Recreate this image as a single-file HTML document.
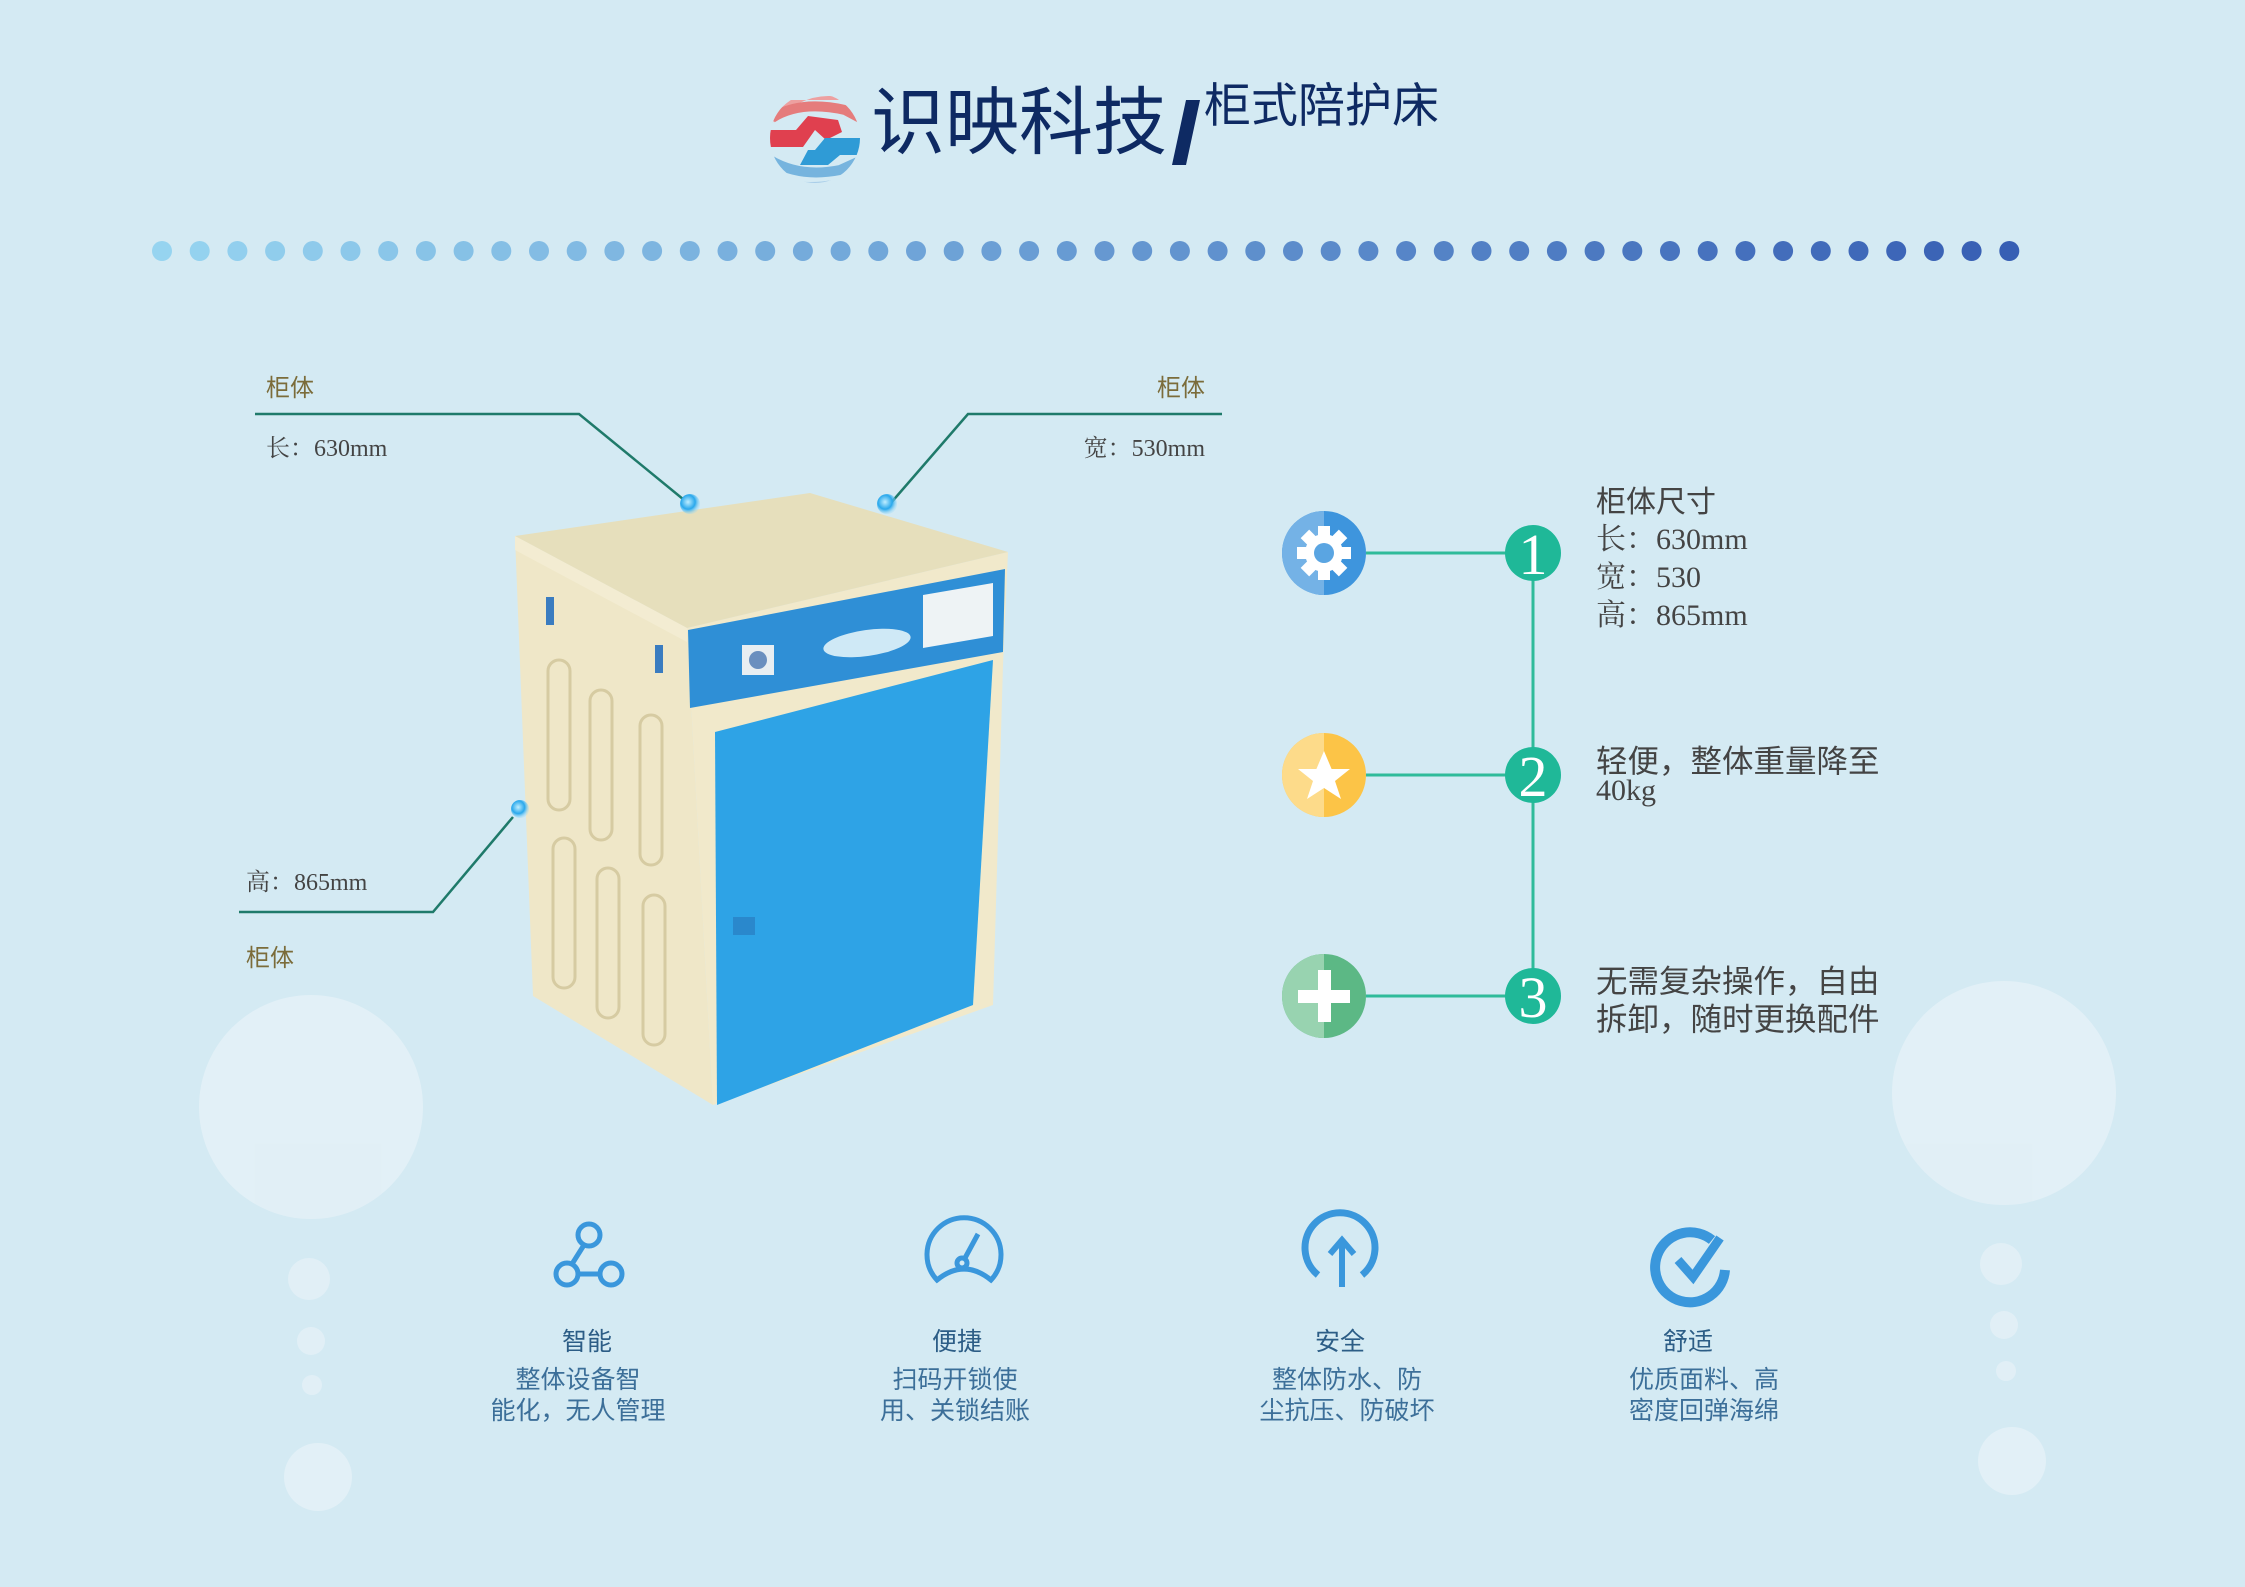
<!DOCTYPE html>
<html><head><meta charset="utf-8"><style>
html,body{margin:0;padding:0;}
body{width:2245px;height:1587px;background:#d4eaf3;overflow:hidden;position:relative;}
svg{position:absolute;left:0;top:0;}
text{font-family:"Liberation Sans","Noto Sans CJK SC",sans-serif;}
.serif{font-family:"Liberation Serif","Noto Serif CJK SC",serif;}
</style></head><body>
<svg width="2245" height="1587" viewBox="0 0 2245 1587" xmlns="http://www.w3.org/2000/svg">
<defs>
<clipPath id="lc"><circle cx="815" cy="138" r="45"/></clipPath>
<radialGradient id="bd" cx="40%" cy="40%" r="60%"><stop offset="0" stop-color="#bfeeff"/><stop offset="0.6" stop-color="#29a8ec"/><stop offset="1" stop-color="#8fd6f8" stop-opacity="0.3"/></radialGradient>
</defs>
<g fill="#e4f1f7" opacity="0.85">
<circle cx="311" cy="1107" r="112"/><circle cx="309" cy="1279" r="21"/><circle cx="311" cy="1341" r="14"/><circle cx="312" cy="1385" r="10"/><circle cx="318" cy="1477" r="34"/>
<circle cx="2004" cy="1093" r="112"/><circle cx="2001" cy="1264" r="21"/><circle cx="2004" cy="1325" r="14"/><circle cx="2006" cy="1371" r="10"/><circle cx="2012" cy="1461" r="34"/>
</g>
<g clip-path="url(#lc)">
<rect x="770" y="93" width="90" height="90" fill="#d4eaf3"/>
<path d="M770 125 Q800 95 830 96 Q850 98 860 112 L860 100 L770 100Z" fill="#eda0a0"/>
<path d="M772 118 Q800 100 845 110 L860 118" stroke="#e57c7c" stroke-width="10" fill="none"/>
<path d="M768 130 L796 130 L808 116 L838 120 L842 132 L826 140 L815 130 L803 147 L768 147Z" fill="#e0404f"/>
<path d="M815 150 L825 138 L862 138 L862 155 L840 155 L828 165 L800 165 L808 150Z" fill="#2f9bd6"/>
<path d="M770 160 Q800 178 840 170 L862 160" stroke="#76b4de" stroke-width="10" fill="none"/>
<path d="M770 172 Q805 192 862 172 L862 185 L770 185Z" fill="#a8cde8"/>
</g>
<text x="871" y="148" font-size="74" fill="#0e2a63" font-family="Liberation Serif,'Noto Serif CJK SC',serif">识映科技</text>
<polygon points="1186,100 1200,100 1186,165 1172,165" fill="#0e2a63"/>
<text x="1204" y="122" font-size="47" fill="#0e2a63" font-family="Liberation Serif,'Noto Serif CJK SC',serif">柜式陪护床</text>
<g id="dots"></g>
<g stroke="#1f7a6a" stroke-width="2.5" fill="none">
<polyline points="255,414 579,414 689,504"/>
<polyline points="1222,414 968,414 890,504"/>
<polyline points="239,912 433,912 513,817"/>
</g>
<g fill="#7b6c3a" font-size="24"><text x="266" y="396">柜体</text><text x="1205" y="396" text-anchor="end">柜体</text><text x="246" y="966">柜体</text></g>
<g fill="#444" font-size="24"><text x="266" y="456" class="serif">长：630mm</text><text x="1205" y="456" text-anchor="end" class="serif">宽：530mm</text><text x="246" y="890" class="serif">高：865mm</text></g>
<polygon points="515,536 687,628 713,1105 533,996" fill="#efe7c8"/>
<polygon points="687,628 1008,552 1003,665 993,1005 713,1105" fill="#f1e9cb"/>
<polygon points="515,536 810,493 1008,552 687,628" fill="#e6dfbc"/>
<polygon points="515,536 687,628 687,642 515,550" fill="#f3ecd2"/>
<polygon points="688,630 1005,569 1003,652 690,708" fill="#2f8fd6"/>
<ellipse cx="867" cy="643" rx="44" ry="13" fill="#cfe9f6" transform="rotate(-8 867 643)"/>
<polygon points="923,595 993,583 993,636 923,648" fill="#eef3f5"/>
<rect x="742" y="645" width="32" height="30" fill="#e8eef2"/>
<circle cx="758" cy="660" r="9" fill="#6a8fbf"/>
<polygon points="715,732 993,660 973,1005 717,1105" fill="#2ea3e6"/>
<rect x="733" y="917" width="22" height="18" fill="#2a88cc"/>
<g fill="none" stroke="#d6cba2" stroke-width="3">
<rect x="548" y="660" width="22" height="150" rx="11"/><rect x="590" y="690" width="22" height="150" rx="11"/><rect x="640" y="715" width="22" height="150" rx="11"/>
<rect x="553" y="838" width="22" height="150" rx="11"/><rect x="597" y="868" width="22" height="150" rx="11"/><rect x="643" y="895" width="22" height="150" rx="11"/>
</g>
<rect x="546" y="597" width="8" height="28" fill="#3a7cc0"/><rect x="655" y="645" width="8" height="28" fill="#3a7cc0"/>
<circle cx="690" cy="504" r="10" fill="url(#bd)"/><circle cx="887" cy="504" r="10" fill="url(#bd)"/><circle cx="520" cy="809" r="9" fill="url(#bd)"/>
<g stroke="#2fbb9a" stroke-width="3"><line x1="1533" y1="553" x2="1533" y2="996"/><line x1="1366" y1="553" x2="1533" y2="553"/><line x1="1366" y1="775" x2="1533" y2="775"/><line x1="1366" y1="996" x2="1533" y2="996"/></g>
<circle cx="1324" cy="553" r="42" fill="#3e95dd"/><path d="M1324 511 A42 42 0 0 0 1324 595Z" fill="#74b2e6"/>
<g transform="translate(1324 553)" fill="#fff"><circle r="19"/><g><rect x="-6" y="-27" width="12" height="12"/><rect x="-6" y="15" width="12" height="12"/><rect x="-27" y="-6" width="12" height="12"/><rect x="15" y="-6" width="12" height="12"/></g><g transform="rotate(45)"><rect x="-6" y="-27" width="12" height="12"/><rect x="-6" y="15" width="12" height="12"/><rect x="-27" y="-6" width="12" height="12"/><rect x="15" y="-6" width="12" height="12"/></g><circle r="10" fill="#5aa5e2"/></g>
<circle cx="1324" cy="775" r="42" fill="#fcc447"/><path d="M1324 733 A42 42 0 0 0 1324 817Z" fill="#fddb8a"/>
<polygon transform="translate(1324 777)" points="0,-26 7.6,-8 26,-8 11,4 17,22 0,11 -17,22 -11,4 -26,-8 -7.6,-8" fill="#fff"/>
<circle cx="1324" cy="996" r="42" fill="#5cb885"/><path d="M1324 954 A42 42 0 0 0 1324 1038Z" fill="#98d3b0"/>
<rect x="1298" y="990" width="52" height="13" fill="#fff"/><rect x="1318" y="970" width="13" height="52" fill="#fff"/>
<g fill="#1fb898"><circle cx="1533" cy="553" r="28"/><circle cx="1533" cy="775" r="28"/><circle cx="1533" cy="996" r="28"/></g>
<g fill="#fff" font-size="58" text-anchor="middle"><text x="1533" y="574" class="serif">1</text><text x="1533" y="796" class="serif">2</text><text x="1533" y="1017" class="serif">3</text></g>
<g fill="#444" font-size="30">
<text x="1596" y="512">柜体尺寸</text>
<text x="1596" y="549" class="serif">长：630mm</text>
<text x="1596" y="587" class="serif">宽：530</text>
<text x="1596" y="625" class="serif">高：865mm</text>
<text x="1596" y="772" font-size="31.5">轻便，整体重量降至</text>
<text x="1596" y="800" class="serif">40kg</text>
<text x="1596" y="992" font-size="31.5">无需复杂操作，自由</text>
<text x="1596" y="1030" font-size="31.5">拆卸，随时更换配件</text>
</g>
<g fill="none" stroke="#3a97dc" stroke-width="5">
<circle cx="589" cy="1235" r="11"/><circle cx="567" cy="1274" r="11"/><circle cx="611" cy="1274" r="11"/><line x1="584" y1="1245" x2="572" y2="1264"/><line x1="578" y1="1274" x2="600" y2="1274"/>
<path d="M937 1280 A37 37 0 1 1 991 1280 Q964 1258 937 1280Z"/><circle cx="962" cy="1263" r="5"/><line x1="965" y1="1258" x2="978" y2="1234"/>
<path d="M1318 1275 A35 35 0 1 1 1362 1275" stroke-width="7"/><line x1="1342" y1="1287" x2="1342" y2="1240" stroke-width="6"/><polyline points="1330,1254 1342,1240 1354,1254" stroke-width="6"/>
<path d="M1712 1240 A35 35 0 1 0 1725 1270" stroke-width="10"/><polyline points="1678,1260 1693,1277 1720,1238" stroke-width="9"/>
</g>
<g text-anchor="middle" font-size="25" fill="#2c5d86">
<text x="587" y="1350">智能</text><text x="957" y="1350">便捷</text><text x="1340" y="1350">安全</text><text x="1688" y="1350">舒适</text>
</g>
<g text-anchor="middle" font-size="25" fill="#3c6f99">
<text x="578" y="1388">整体设备智</text><text x="578" y="1419">能化，无人管理</text>
<text x="955" y="1388">扫码开锁使</text><text x="955" y="1419">用、关锁结账</text>
<text x="1347" y="1388">整体防水、防</text><text x="1347" y="1419">尘抗压、防破坏</text>
<text x="1704" y="1388">优质面料、高</text><text x="1704" y="1419">密度回弹海绵</text>
</g>
</svg>
<script>
var g=document.getElementById('dots'),s='';
for(var i=0;i<50;i++){var t=i/49;var r=Math.round(150+(55-150)*t),gg=Math.round(212+(95-212)*t),b=Math.round(240+(180-240)*t);
s+='<circle cx="'+(162+i*37.7).toFixed(1)+'" cy="251" r="10" fill="rgb('+r+','+gg+','+b+')"/>';}
g.innerHTML=s;
</script>
</body></html>
